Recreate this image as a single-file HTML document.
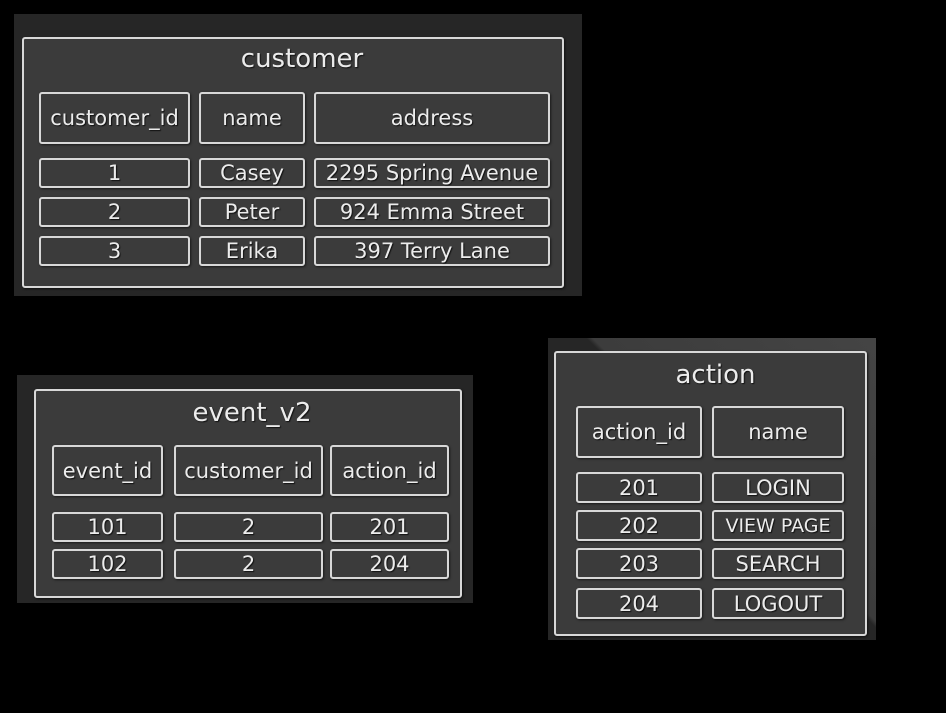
<!DOCTYPE html>
<html><head><meta charset="utf-8"><style>
html,body{margin:0;padding:0;background:#000;}
body{width:946px;height:713px;position:relative;overflow:hidden;font-family:"DejaVu Sans","Liberation Sans",sans-serif;}
.o{position:absolute;background:#262626;}
.i{position:absolute;border:2px solid #d8d8d8;border-radius:3px;background:#3b3b3b;box-sizing:border-box;box-shadow:1px 1px 2px #111;}
.b{position:absolute;border:2px solid #d8d8d8;border-radius:3px;box-sizing:border-box;color:#ececec;text-align:center;font-size:21px;display:flex;align-items:center;justify-content:center;white-space:nowrap;text-shadow:1px 1px 1px #111;box-shadow:1px 1px 2px #1a1a1a;}
.t{position:absolute;color:#ececec;font-size:26px;text-align:center;text-shadow:1px 1px 1px #111;}
</style></head><body>

<div class="o" style="left:14px;top:14px;width:568px;height:282px;"></div>
<div class="i" style="left:22px;top:37px;width:542px;height:251px;"></div>
<div class="t" style="left:22px;width:560px;top:44px;">customer</div>
<div class="b" style="left:39px;top:92px;width:151px;height:52px;">customer_id</div>
<div class="b" style="left:199px;top:92px;width:106px;height:52px;">name</div>
<div class="b" style="left:314px;top:92px;width:236px;height:52px;">address</div>
<div class="b" style="left:39px;top:158px;width:151px;height:30px;">1</div>
<div class="b" style="left:199px;top:158px;width:106px;height:30px;">Casey</div>
<div class="b" style="left:314px;top:158px;width:236px;height:30px;">2295 Spring Avenue</div>
<div class="b" style="left:39px;top:197px;width:151px;height:30px;">2</div>
<div class="b" style="left:199px;top:197px;width:106px;height:30px;">Peter</div>
<div class="b" style="left:314px;top:197px;width:236px;height:30px;">924 Emma Street</div>
<div class="b" style="left:39px;top:236px;width:151px;height:30px;">3</div>
<div class="b" style="left:199px;top:236px;width:106px;height:30px;">Erika</div>
<div class="b" style="left:314px;top:236px;width:236px;height:30px;">397 Terry Lane</div>

<div class="o" style="left:17px;top:375px;width:456px;height:228px;"></div>
<div class="i" style="left:34px;top:389px;width:428px;height:209px;"></div>
<div class="t" style="left:34px;width:436px;top:398px;">event_v2</div>
<div class="b" style="left:52px;top:445px;width:111px;height:51px;">event_id</div>
<div class="b" style="left:174px;top:445px;width:149px;height:51px;">customer_id</div>
<div class="b" style="left:330px;top:445px;width:119px;height:51px;">action_id</div>
<div class="b" style="left:52px;top:512px;width:111px;height:30px;">101</div>
<div class="b" style="left:174px;top:512px;width:149px;height:30px;">2</div>
<div class="b" style="left:330px;top:512px;width:119px;height:30px;">201</div>
<div class="b" style="left:52px;top:549px;width:111px;height:30px;">102</div>
<div class="b" style="left:174px;top:549px;width:149px;height:30px;">2</div>
<div class="b" style="left:330px;top:549px;width:119px;height:30px;">204</div>

<div class="o" style="left:548px;top:338px;width:328px;height:302px;background:linear-gradient(225deg,#444 0%,#3c3c3c 45%,#262626 46%,#262626 100%);"></div>
<div class="i" style="left:554px;top:351px;width:313px;height:285px;"></div>
<div class="t" style="left:554px;width:323px;top:360px;">action</div>
<div class="b" style="left:576px;top:406px;width:126px;height:52px;">action_id</div>
<div class="b" style="left:712px;top:406px;width:132px;height:52px;">name</div>
<div class="b" style="left:576px;top:472px;width:126px;height:31px;">201</div>
<div class="b" style="left:712px;top:472px;width:132px;height:31px;">LOGIN</div>
<div class="b" style="left:576px;top:510px;width:126px;height:31px;">202</div>
<div class="b" style="left:712px;top:510px;width:132px;height:31px;font-size:19px;">VIEW PAGE</div>
<div class="b" style="left:576px;top:548px;width:126px;height:31px;">203</div>
<div class="b" style="left:712px;top:548px;width:132px;height:31px;">SEARCH</div>
<div class="b" style="left:576px;top:588px;width:126px;height:31px;">204</div>
<div class="b" style="left:712px;top:588px;width:132px;height:31px;">LOGOUT</div>

</body></html>
